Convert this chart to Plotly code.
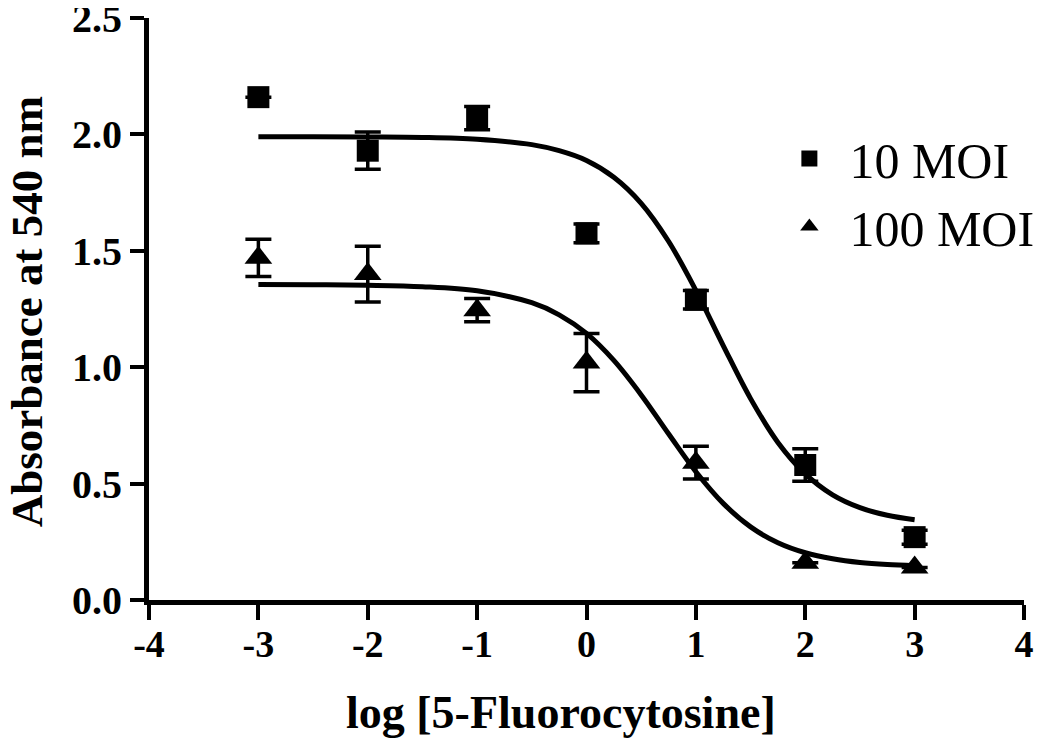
import plotly.graph_objects as go

# Measured points
x_pts = [-3, -2, -1, 0, 1, 2, 3]
moi10_y = [2.16, 1.93, 2.07, 1.575, 1.29, 0.58, 0.27]
moi10_err = [None, 0.08, 0.05, 0.04, 0.04, 0.07, 0.03]
moi100_y = [1.47, 1.40, 1.245, 1.02, 0.59, 0.16, 0.14]
moi100_err = [0.08, 0.12, 0.05, 0.125, 0.07, None, None]

# Fitted curves
curve_x = [-3, -2.5, -2, -1.5, -1, -0.5, -0.25, 0, 0.25, 0.5, 0.75, 1.0,
           1.25, 1.5, 1.75, 2.0, 2.25, 2.5, 2.75, 3.0]
curve10_y = [1.990, 1.990, 1.989, 1.987, 1.979, 1.956, 1.930, 1.888, 1.816, 1.704,
             1.541, 1.330, 1.093, 0.865, 0.677, 0.542, 0.452, 0.397, 0.364, 0.345]
curve100_y = [1.355, 1.354, 1.352, 1.346, 1.328, 1.277, 1.225, 1.145, 1.029, 0.881,
              0.714, 0.551, 0.415, 0.314, 0.246, 0.203, 0.177, 0.161, 0.152, 0.147]

series_names = ["10 MOI", "100 MOI"]
x_ticks = [-4, -3, -2, -1, 0, 1, 2, 3, 4]
y_ticks = [0.0, 0.5, 1.0, 1.5, 2.0, 2.5]
x_title = "log [5-Fluorocytosine]"
y_title = "Absorbance at 540 nm"

SERIF = "Liberation Serif"

fig = go.Figure()

fig.add_trace(go.Scatter(x=curve_x, y=curve10_y, mode="lines", line=dict(color="black", width=5, shape="spline"),
                         showlegend=False, hoverinfo="skip"))
fig.add_trace(go.Scatter(x=curve_x, y=curve100_y, mode="lines", line=dict(color="black", width=5, shape="spline"),
                         showlegend=False, hoverinfo="skip"))

fig.add_trace(go.Scatter(
    x=x_pts, y=moi10_y, mode="markers", name=series_names[0], legendgroup="a",
    marker=dict(symbol="square", size=22, color="black"),
    error_y=dict(type="data", array=moi10_err, visible=True, color="black", thickness=3.5, width=13),
))
fig.add_trace(go.Scatter(
    x=x_pts, y=moi100_y, mode="markers", name=series_names[1], legendgroup="b",
    marker=dict(symbol="triangle-up", size=24, color="black"),
    error_y=dict(type="data", array=moi100_err, visible=True, color="black", thickness=3.5, width=13),
))

# the page body has an 8px margin, so the figure is 8px smaller and margins compensate
fig.update_layout(
    width=1042, height=733,
    margin=dict(l=141, r=26, t=10, b=141),
    paper_bgcolor="white", plot_bgcolor="white",
    font=dict(family=SERIF, color="black"),
    legend=dict(x=0.709, y=0.70, xanchor="left", yanchor="middle",
                font=dict(family=SERIF, size=50, color="black"),
                bgcolor="rgba(0,0,0,0)", itemsizing="trace", tracegroupgap=0, itemwidth=70),
    showlegend=True,
    annotations=[
        dict(text=x_title, xref="paper", yref="paper", x=0.471, y=-0.193, xanchor="center", yanchor="middle",
             showarrow=False, font=dict(family=SERIF, size=46, weight="bold", color="black")),
        dict(text=y_title, xref="paper", yref="paper", x=-0.139, y=0.495, xanchor="center", yanchor="middle",
             textangle=-90, showarrow=False, font=dict(family=SERIF, size=45, weight="bold", color="black")),
    ],
)

fig.update_xaxes(
    range=[-4, 4], tickmode="array", tickvals=x_ticks, ticktext=[str(v) for v in x_ticks],
    showline=True, linecolor="black", linewidth=5, showgrid=False, zeroline=False, automargin=False,
    ticks="outside", ticklen=15, tickwidth=4, tickcolor="black", ticklabelstandoff=-9,
    ticklabeloverflow="allow",
    tickfont=dict(family=SERIF, size=38, weight="bold", color="black"),
)
fig.update_yaxes(
    range=[0, 2.5], tickmode="array", tickvals=y_ticks, ticktext=[f"{v:.1f}" for v in y_ticks],
    showline=True, linecolor="black", linewidth=5, showgrid=False, zeroline=False, automargin=False,
    ticks="outside", ticklen=14, tickwidth=4, tickcolor="black", ticklabeloverflow="allow",
    tickfont=dict(family=SERIF, size=40, weight="bold", color="black"),
)

fig.write_html("out.html")
